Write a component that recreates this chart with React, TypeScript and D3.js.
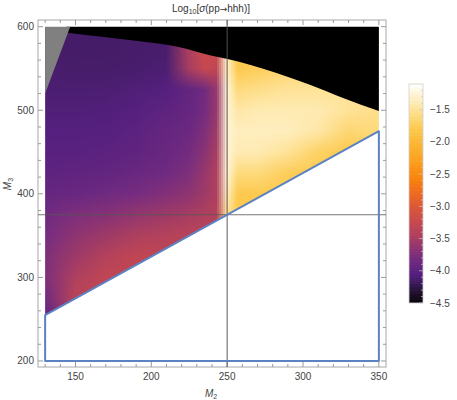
import React, { useEffect, useRef } from "react";
import * as d3 from "d3";

// grid of log10 cross-section values
const M2_GRID = [130, 150, 170, 190, 210, 225, 235, 243, 250, 257, 270, 290, 310, 330, 350];
const M3_GRID = [250, 275, 300, 325, 350, 375, 400, 425, 450, 475, 500, 525, 550, 575, 600];
const LOG_SIGMA = [
  [-4.0, -3.5, -3.3, -3.3, -3.3, -3.3, -3.3, -3.3, -1.7, -1.8, -1.8, -1.8, -1.8, -1.8, -1.8],
  [-3.85, -3.35, -3.3, -3.3, -3.3, -3.3, -3.3, -3.3, -1.7, -1.8, -1.8, -1.8, -1.8, -1.8, -1.8],
  [-3.75, -3.45, -3.3, -3.3, -3.3, -3.3, -3.3, -3.3, -1.7, -1.8, -1.8, -1.8, -1.8, -1.8, -1.8],
  [-3.75, -3.55, -3.4, -3.3, -3.3, -3.3, -3.3, -3.3, -1.7, -1.8, -1.8, -1.8, -1.8, -1.8, -1.8],
  [-3.8, -3.65, -3.55, -3.45, -3.4, -3.35, -3.35, -3.35, -1.7, -1.8, -1.8, -1.8, -1.8, -1.8, -1.8],
  [-3.85, -3.75, -3.7, -3.62, -3.55, -3.5, -3.45, -3.4, -1.5, -1.8, -1.8, -1.8, -1.8, -1.8, -1.8],
  [-3.92, -3.9, -3.85, -3.8, -3.72, -3.65, -3.55, -3.45, -1.35, -1.8, -1.8, -1.8, -1.8, -1.8, -1.8],
  [-3.98, -3.97, -3.95, -3.9, -3.85, -3.75, -3.6, -3.45, -1.25, -1.6, -1.6, -1.75, -1.8, -1.8, -1.8],
  [-4.02, -4.02, -4.0, -3.97, -3.9, -3.82, -3.68, -3.5, -1.25, -1.4, -1.4, -1.5, -1.7, -1.8, -1.75],
  [-4.05, -4.05, -4.04, -4.0, -3.93, -3.88, -3.75, -3.55, -1.25, -1.35, -1.35, -1.35, -1.45, -1.65, -1.6],
  [-4.08, -4.08, -4.07, -4.04, -3.98, -3.92, -3.82, -3.6, -1.25, -1.45, -1.4, -1.4, -1.4, -1.5, -1.55],
  [-4.1, -4.1, -4.1, -4.08, -4.05, -3.95, -3.85, -3.6, -1.25, -1.6, -1.55, -1.5, -1.5, -1.5, -1.5],
  [-4.12, -4.13, -4.13, -4.12, -4.1, -3.5, -3.25, -3.3, -1.3, -1.8, -1.75, -1.65, -1.6, -1.6, -1.6],
  [-4.13, -4.14, -4.14, -4.13, -4.12, -3.45, -3.2, -3.25, -1.3, -1.8, -1.75, -1.75, -1.75, -1.75, -1.75],
  [-4.13, -4.14, -4.14, -4.13, -4.12, -3.45, -3.2, -3.25, -1.3, -1.8, -1.75, -1.75, -1.75, -1.75, -1.75],
];

// upper edge of the allowed region (black above)
const CURVE_M2 = [144, 146.2, 170.4, 192.4, 218.7, 238.5, 249.5, 282.5, 304.5, 326.4, 350];
const CURVE_M3 = [593, 592.5, 587.3, 582.5, 575.4, 565.8, 561.7, 544.6, 530.6, 514.7, 499];

const GRAY_M2 = [130, 130, 146.5];
const GRAY_M3 = [520, 600, 600];

const BOUNDARY_M2 = [130, 130, 350, 350, 130];
const BOUNDARY_M3 = [255, 200, 200, 475, 255];

const CROSS_M2 = 250;
const CROSS_M3 = 375;

const X_TICKS = [150, 200, 250, 300, 350];
const Y_TICKS = [200, 300, 400, 500, 600];
const CB_TICKS = [-4.5, -4.0, -3.5, -3.0, -2.5, -2.0, -1.5];

const COLOR_VALUES = [-4.5, -4.35, -4.2, -4.05, -3.8, -3.6, -3.45, -3.25, -3.0, -2.8, -2.6, -2.4, -2.2, -2.0, -1.8, -1.6, -1.4, -1.2, -1.1];
const COLOR_HEX = ["#0a0510", "#1e1028", "#3a1a58", "#55207f", "#762c80", "#96376c", "#ae405e", "#c64850", "#dc5838", "#ee6a22", "#f7800e", "#fb9518", "#fca825", "#fcb835", "#fdc94e", "#fdda7c", "#feeab2", "#fff7e2", "#ffffff"];

const W = 457;
const H = 400;
const FONT = "'Liberation Sans', Arial, sans-serif";

const App = () => {
  const svgRef = useRef<SVGSVGElement>(null);

  useEffect(() => {
    const svg = d3.select(svgRef.current);
    svg.selectAll("*").remove();

    const x = d3.scaleLinear().domain([125.3, 354.7]).range([38, 386]);
    const y = d3.scaleLinear().domain([192.8, 608]).range([367, 20]);
    const color = d3.scaleLinear<string>().domain(COLOR_VALUES).range(COLOR_HEX).interpolate(d3.interpolateRgb).clamp(true);

    const nodeColors = LOG_SIGMA.map(row => row.map(v => d3.rgb(color(v))));

    // bilinear blend of vertex colours, like the original density plot
    const colorAt = (m2: number, m3: number) => {
      const i = Math.max(0, Math.min(M2_GRID.length - 2, d3.bisectRight(M2_GRID, m2) - 1));
      const j = Math.max(0, Math.min(M3_GRID.length - 2, d3.bisectRight(M3_GRID, m3) - 1));
      const tx = Math.max(0, Math.min(1, (m2 - M2_GRID[i]) / (M2_GRID[i + 1] - M2_GRID[i])));
      const ty = Math.max(0, Math.min(1, (m3 - M3_GRID[j]) / (M3_GRID[j + 1] - M3_GRID[j])));
      const c00 = nodeColors[j][i], c10 = nodeColors[j][i + 1];
      const c01 = nodeColors[j + 1][i], c11 = nodeColors[j + 1][i + 1];
      const mix = (a: number, b: number, c: number, d: number) =>
        Math.round(a * (1 - tx) * (1 - ty) + b * tx * (1 - ty) + c * (1 - tx) * ty + d * tx * ty);
      return `rgb(${mix(c00.r, c10.r, c01.r, c11.r)},${mix(c00.g, c10.g, c01.g, c11.g)},${mix(c00.b, c10.b, c01.b, c11.b)})`;
    };

    const defs = svg.append("defs");
    const clipPts: [number, number][] = [
      [x(130), y(255)], [x(350), y(475)], [x(350), y(600)], [x(130), y(600)],
    ];
    defs.append("clipPath").attr("id", "heat-clip")
      .append("polygon").attr("points", clipPts.map(p => p.join(",")).join(" "));

    const heat = svg.append("g").attr("clip-path", "url(#heat-clip)");
    const step = 2;
    const cells: { px: number; py: number; c: string }[] = [];
    for (let px = x(130); px < x(350); px += step) {
      for (let py = y(600); py < y(254); py += step) {
        const m2 = x.invert(px + step / 2);
        const m3 = y.invert(py + step / 2);
        if (m3 < m2 + 125 - 4) continue;
        cells.push({ px, py, c: colorAt(m2, m3) });
      }
    }
    heat.selectAll("rect").data(cells).join("rect")
      .attr("x", d => d.px).attr("y", d => d.py)
      .attr("width", step + 0.3).attr("height", step + 0.3)
      .attr("fill", d => d.c)
      .attr("shape-rendering", "crispEdges");

    // black excluded region
    const curvePts: [number, number][] = CURVE_M2.map((m, i) => [x(m), y(CURVE_M3[i])]);
    const line = d3.line().curve(d3.curveMonotoneX);
    svg.append("path")
      .attr("d", line(curvePts) + `L${x(350)},${y(600)}L${x(CURVE_M2[0])},${y(600)}Z`)
      .attr("fill", "#000");

    svg.append("polygon")
      .attr("points", GRAY_M2.map((m, i) => `${x(m)},${y(GRAY_M3[i])}`).join(" "))
      .attr("fill", "#808080");

    // frame
    const frame = svg.append("g");
    frame.append("rect").attr("x", 38).attr("y", 20).attr("width", 348).attr("height", 347)
      .attr("fill", "none").attr("stroke", "#a8a8a8").attr("stroke-width", 1);

    const xMinor = d3.range(130, 351, 10);
    const yMinor = d3.range(200, 601, 20);
    const tickStroke = "#9a9a9a";
    xMinor.forEach(v => {
      const len = X_TICKS.includes(v) ? 5 : 3;
      frame.append("line").attr("x1", x(v)).attr("x2", x(v)).attr("y1", 367).attr("y2", 367 - len).attr("stroke", tickStroke);
      frame.append("line").attr("x1", x(v)).attr("x2", x(v)).attr("y1", 20).attr("y2", 20 + len).attr("stroke", tickStroke);
    });
    yMinor.forEach(v => {
      const len = Y_TICKS.includes(v) ? 5 : 3;
      frame.append("line").attr("y1", y(v)).attr("y2", y(v)).attr("x1", 38).attr("x2", 38 + len).attr("stroke", tickStroke);
      frame.append("line").attr("y1", y(v)).attr("y2", y(v)).attr("x1", 386).attr("x2", 386 - len).attr("stroke", tickStroke);
    });

    // crosshair
    svg.append("line").attr("x1", x(CROSS_M2)).attr("x2", x(CROSS_M2)).attr("y1", 20).attr("y2", 367)
      .attr("stroke", "#555").attr("stroke-opacity", 0.8).attr("stroke-width", 1.2);
    svg.append("line").attr("x1", 38).attr("x2", 386).attr("y1", y(CROSS_M3)).attr("y2", y(CROSS_M3))
      .attr("stroke", "#555").attr("stroke-opacity", 0.8).attr("stroke-width", 1.2);

    // boundary of the white region
    svg.append("polygon")
      .attr("points", BOUNDARY_M2.map((m, i) => `${x(m)},${y(BOUNDARY_M3[i])}`).join(" "))
      .attr("fill", "none").attr("stroke", "#5b82c2").attr("stroke-width", 2).attr("stroke-linejoin", "round");

    // tick labels
    svg.append("g").selectAll("text").data(X_TICKS).join("text")
      .attr("x", d => x(d)).attr("y", 380).attr("text-anchor", "middle")
      .attr("font-family", FONT).attr("font-size", 10).attr("fill", "#444")
      .text(d => d);
    svg.append("g").selectAll("text").data(Y_TICKS).join("text")
      .attr("x", 34).attr("y", d => y(d) + 3.5).attr("text-anchor", "end")
      .attr("font-family", FONT).attr("font-size", 10).attr("fill", "#444")
      .text(d => d);

    // axis labels and title
    const xl = svg.append("text").attr("x", 211).attr("y", 397).attr("text-anchor", "middle")
      .attr("font-family", FONT).attr("font-size", 10).attr("fill", "#444");
    xl.append("tspan").attr("font-style", "italic").text("M");
    xl.append("tspan").attr("font-size", 7).attr("dy", 2).text("2");

    const yl = svg.append("text").attr("transform", `translate(11,184) rotate(-90)`).attr("text-anchor", "middle")
      .attr("font-family", FONT).attr("font-size", 10).attr("fill", "#444");
    yl.append("tspan").attr("font-style", "italic").text("M");
    yl.append("tspan").attr("font-size", 7).attr("dy", 2).text("3");

    const title = svg.append("text").attr("x", 211).attr("y", 12).attr("text-anchor", "middle")
      .attr("font-family", FONT).attr("font-size", 10).attr("fill", "#333");
    title.append("tspan").text("Log");
    title.append("tspan").attr("font-size", 7).attr("dy", 2).text("10");
    title.append("tspan").attr("dy", -2).text("[");
    title.append("tspan").attr("font-style", "italic").text("σ");
    title.append("tspan").text("(pp");
    title.append("tspan").attr("font-family", "'DejaVu Sans', sans-serif").attr("font-size", 9).text("→");
    title.append("tspan").text("hhh)]");

    // colour bar
    const cb = d3.scaleLinear().domain([-4.5, -1.1]).range([303, 84]);
    const bands = d3.range(-4.5, -1.1, 0.05);
    const bar = svg.append("g");
    bar.selectAll("rect").data(bands).join("rect")
      .attr("x", 409).attr("width", 14)
      .attr("y", d => cb(d + 0.05)).attr("height", d => cb(d) - cb(d + 0.05) + 0.4)
      .attr("fill", d => color(d + 0.025))
      .attr("shape-rendering", "crispEdges");
    bar.append("rect").attr("x", 409).attr("y", 84).attr("width", 14).attr("height", 219)
      .attr("fill", "none").attr("stroke", "#d0d0d0").attr("stroke-width", 0.8);
    d3.range(-4.5, -1.15, 0.1).forEach(v => {
      const major = CB_TICKS.some(t => Math.abs(t - v) < 1e-6);
      bar.append("line").attr("x1", 423).attr("x2", 423 - (major ? 4 : 2))
        .attr("y1", cb(v)).attr("y2", cb(v)).attr("stroke", "#c8c8c8").attr("stroke-width", 0.7);
    });
    bar.selectAll("text").data(CB_TICKS).join("text")
      .attr("x", 430).attr("y", d => cb(d) + 3.5)
      .attr("font-family", FONT).attr("font-size", 10).attr("fill", "#444")
      .text(d => "\u2212" + Math.abs(d).toFixed(1));
  }, []);

  return (
    <svg ref={svgRef} width={W} height={H} style={{ position: "absolute", left: 0, top: 0, background: "#fff" }} />
  );
};

export default App;
